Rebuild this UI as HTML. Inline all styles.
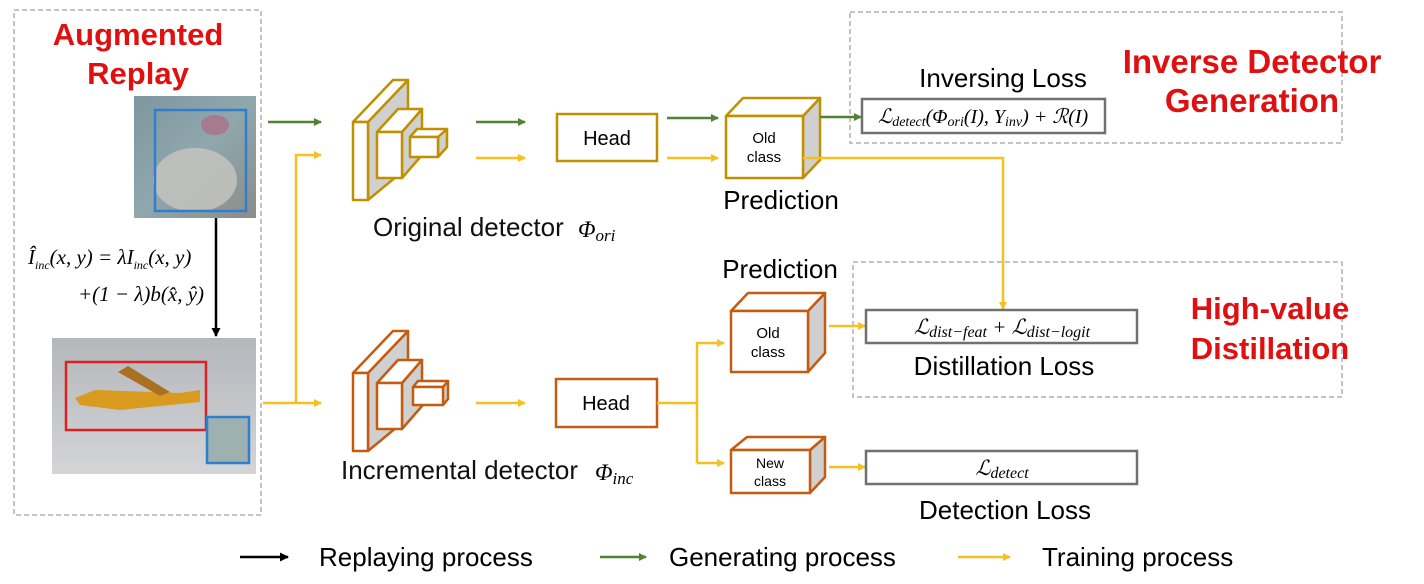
<!DOCTYPE html>
<html><head><meta charset="utf-8"><style>
html,body{margin:0;padding:0;background:#fff;}
svg{display:block;}
text{font-family:"Liberation Sans",Arial,sans-serif;}
.m{font-family:"Liberation Serif","DejaVu Serif",serif;font-style:italic;}
</style></head><body>
<svg width="1424" height="584" viewBox="0 0 1424 584" xmlns="http://www.w3.org/2000/svg">
<defs>
<marker id="ag" markerWidth="8" markerHeight="8" refX="7" refY="4" orient="auto" markerUnits="userSpaceOnUse"><path d="M0,0 L8,4 L0,8 z" fill="#548235"/></marker>
<marker id="ay" markerWidth="8" markerHeight="8" refX="7" refY="4" orient="auto" markerUnits="userSpaceOnUse"><path d="M0,0 L8,4 L0,8 z" fill="#F5C020"/></marker>
<marker id="ak" markerWidth="9" markerHeight="9" refX="8" refY="4.5" orient="auto" markerUnits="userSpaceOnUse"><path d="M0,0 L9,4.5 L0,9 z" fill="#000"/></marker>
<linearGradient id="bird" x1="0" y1="0" x2="1" y2="1"><stop offset="0" stop-color="#7f95a0"/><stop offset="0.5" stop-color="#8fa7ad"/><stop offset="1" stop-color="#8c8c88"/></linearGradient>
<linearGradient id="sky" x1="0" y1="0" x2="0" y2="1"><stop offset="0" stop-color="#b4b7bb"/><stop offset="1" stop-color="#d3d5d7"/></linearGradient>
</defs>

<rect x="14" y="10" width="247" height="505" fill="none" stroke="#b0b0b0" stroke-width="1.5" stroke-dasharray="5,3"/>
<rect x="850" y="12" width="492" height="131" fill="none" stroke="#b0b0b0" stroke-width="1.5" stroke-dasharray="5,3"/>
<rect x="853" y="262" width="489" height="135" fill="none" stroke="#b0b0b0" stroke-width="1.5" stroke-dasharray="5,3"/>

<text x="138" y="45" font-size="31" font-weight="bold" fill="#e01010" text-anchor="middle">Augmented</text>
<text x="138" y="84" font-size="31" font-weight="bold" fill="#e01010" text-anchor="middle">Replay</text>
<rect x="134" y="96" width="122" height="122" fill="url(#bird)"/>
<ellipse cx="195" cy="180" rx="42" ry="32" fill="#c8c6c0" opacity="0.8"/>
<ellipse cx="215" cy="125" rx="14" ry="10" fill="#b06a80" opacity="0.7"/>
<rect x="155" y="110" width="91" height="101" fill="none" stroke="#2f7fcf" stroke-width="2.5"/>
<line x1="216" y1="218" x2="216" y2="336" stroke="#000" stroke-width="2.5" marker-end="url(#ak)"/>
<text x="28" y="264" font-size="21" class="m">Î<tspan font-size="12" dy="5">inc</tspan><tspan dy="-5">(x, y) = λI</tspan><tspan font-size="12" dy="5">inc</tspan><tspan dy="-5">(x, y)</tspan></text>
<text x="78" y="301" font-size="21" class="m">+(1 − λ)b(x̂, ŷ)</text>
<rect x="52" y="338" width="204" height="136" fill="url(#sky)"/>
<path d="M75,398 L95,390 L180,393 L200,390 L200,402 L120,410 L80,405z" fill="#d99a20"/>
<path d="M118,372 L128,366 L170,392 L160,396z" fill="#a87020"/>
<rect x="66" y="362" width="140" height="68" fill="none" stroke="#e02020" stroke-width="2.5"/>
<rect x="207" y="417" width="42" height="46" fill="#9fb0b0" stroke="#2f7fcf" stroke-width="2.5"/>

<line x1="268" y1="122" x2="321" y2="122" stroke="#548235" stroke-width="2.5" marker-end="url(#ag)"/>
<polyline points="263,403 296,403" fill="none" stroke="#F5C020" stroke-width="2.5"/>
<line x1="296" y1="403" x2="321" y2="403" stroke="#F5C020" stroke-width="2.5" marker-end="url(#ay)"/>
<polyline points="296,403 296,155 321,155" fill="none" stroke="#F5C020" stroke-width="2.5" marker-end="url(#ay)"/>

<g stroke="#BF9000" stroke-width="2.5" stroke-linejoin="round">
<polygon points="368,122 408,80 408,167 368,200" fill="#d0d0d0"/>
<polygon points="353,122 368,122 408,80 393,80" fill="#fff"/>
<rect x="353" y="122" width="15" height="78" fill="#fff"/>
<polygon points="402,132 422,109 422,155 402,178" fill="#d0d0d0"/>
<polygon points="377,132 402,132 422,109 398,109" fill="#fff"/>
<rect x="377" y="132" width="25" height="46" fill="#fff"/>
<polygon points="438,137 447,129 447,147 438,157" fill="#d0d0d0"/>
<polygon points="410,137 438,137 447,129 417,129" fill="#fff"/>
<rect x="410" y="137" width="28" height="20" fill="#fff"/>
</g>
<text x="373" y="236" font-size="26" fill="#111">Original detector</text>
<text x="578" y="237" font-size="23" class="m">Φ<tspan font-size="17" dy="4">ori</tspan></text>
<line x1="476" y1="122" x2="525" y2="122" stroke="#548235" stroke-width="2.5" marker-end="url(#ag)"/>
<line x1="476" y1="158" x2="525" y2="158" stroke="#F5C020" stroke-width="2.5" marker-end="url(#ay)"/>
<rect x="557" y="114" width="100" height="47" fill="#fff" stroke="#BF9000" stroke-width="2.5"/>
<text x="607" y="145" font-size="20" text-anchor="middle">Head</text>
<line x1="667" y1="118" x2="718" y2="118" stroke="#548235" stroke-width="2.5" marker-end="url(#ag)"/>
<line x1="667" y1="158" x2="718" y2="158" stroke="#F5C020" stroke-width="2.5" marker-end="url(#ay)"/>
<g stroke="#BF9000" stroke-width="2.5" stroke-linejoin="round">
<polygon points="803,116 820,98 820,160 803,178" fill="#d0d0d0"/>
<polygon points="726,116 803,116 820,98 743,98" fill="#fff"/>
<rect x="726" y="116" width="77" height="62" fill="#fff"/>
</g>
<text x="764" y="143" font-size="15" text-anchor="middle">Old</text>
<text x="764" y="162" font-size="15" text-anchor="middle">class</text>
<text x="781" y="209" font-size="26" text-anchor="middle">Prediction</text>
<line x1="820" y1="117" x2="861" y2="117" stroke="#548235" stroke-width="2.5" marker-end="url(#ag)"/>
<polyline points="803,158 1003,158 1003,309" fill="none" stroke="#F5C020" stroke-width="2.5" marker-end="url(#ay)"/>

<text x="1003" y="87" font-size="26" text-anchor="middle">Inversing Loss</text>
<rect x="862" y="99" width="243" height="34" fill="#fff" stroke="#707070" stroke-width="2.5"/>
<text x="983" y="123" font-size="20" text-anchor="middle" class="m">ℒ<tspan font-size="14" dy="3">detect</tspan><tspan dy="-3">(Φ</tspan><tspan font-size="14" dy="3">ori</tspan><tspan dy="-3">(I), Y</tspan><tspan font-size="14" dy="3">inv</tspan><tspan dy="-3">) + ℛ(I)</tspan></text>
<text x="1252" y="73" font-size="33" font-weight="bold" fill="#e01010" text-anchor="middle">Inverse Detector</text>
<text x="1252" y="112" font-size="33" font-weight="bold" fill="#e01010" text-anchor="middle">Generation</text>

<g stroke="#C55A11" stroke-width="2.5" stroke-linejoin="round">
<polygon points="368,373 408,331 408,418 368,451" fill="#d0d0d0"/>
<polygon points="353,373 368,373 408,331 393,331" fill="#fff"/>
<rect x="353" y="373" width="15" height="78" fill="#fff"/>
<polygon points="402,383 422,360 422,406 402,429" fill="#d0d0d0"/>
<polygon points="377,383 402,383 422,360 398,360" fill="#fff"/>
<rect x="377" y="383" width="25" height="46" fill="#fff"/>
<polygon points="443,387 448,381 448,399 443,405" fill="#d0d0d0"/>
<polygon points="413,387 443,387 448,381 418,381" fill="#fff"/>
<rect x="413" y="387" width="30" height="18" fill="#fff"/>
</g>
<text x="341" y="479" font-size="26" fill="#111">Incremental detector</text>
<text x="595" y="480" font-size="23" class="m">Φ<tspan font-size="17" dy="4">inc</tspan></text>
<line x1="476" y1="403" x2="525" y2="403" stroke="#F5C020" stroke-width="2.5" marker-end="url(#ay)"/>
<rect x="556" y="379" width="101" height="48" fill="#fff" stroke="#C55A11" stroke-width="2.5"/>
<text x="606" y="410" font-size="20" text-anchor="middle">Head</text>
<polyline points="657,403 697,403" fill="none" stroke="#F5C020" stroke-width="2.5"/>
<polyline points="697,463 697,343 724,343" fill="none" stroke="#F5C020" stroke-width="2.5" marker-end="url(#ay)"/>
<line x1="697" y1="463" x2="724" y2="463" stroke="#F5C020" stroke-width="2.5" marker-end="url(#ay)"/>
<text x="780" y="278" font-size="26" text-anchor="middle">Prediction</text>
<g stroke="#C55A11" stroke-width="2.5" stroke-linejoin="round">
<polygon points="808,311 825,293 825,353 808,372" fill="#d0d0d0"/>
<polygon points="731,311 808,311 825,293 748,293" fill="#fff"/>
<rect x="731" y="311" width="77" height="61" fill="#fff"/>
<polygon points="810,450 825,437 825,477 810,493" fill="#d0d0d0"/>
<polygon points="731,450 810,450 825,437 747,437" fill="#fff"/>
<rect x="731" y="450" width="79" height="43" fill="#fff"/>
</g>
<text x="768" y="338" font-size="15" text-anchor="middle">Old</text>
<text x="768" y="357" font-size="15" text-anchor="middle">class</text>
<text x="770" y="468" font-size="14" text-anchor="middle">New</text>
<text x="770" y="486" font-size="14" text-anchor="middle">class</text>
<line x1="829" y1="326" x2="865" y2="326" stroke="#F5C020" stroke-width="2.5" marker-end="url(#ay)"/>
<line x1="829" y1="467" x2="865" y2="467" stroke="#F5C020" stroke-width="2.5" marker-end="url(#ay)"/>

<rect x="866" y="310" width="271" height="33" fill="#fff" stroke="#707070" stroke-width="2.5"/>
<text x="1002" y="334" font-size="21" text-anchor="middle" class="m">ℒ<tspan font-size="16" dy="3">dist−feat</tspan><tspan dy="-3"> + ℒ</tspan><tspan font-size="16" dy="3">dist−logit</tspan></text>
<text x="1004" y="375" font-size="26" text-anchor="middle">Distillation Loss</text>
<text x="1270" y="319" font-size="31" font-weight="bold" fill="#e01010" text-anchor="middle">High-value</text>
<text x="1270" y="359" font-size="31" font-weight="bold" fill="#e01010" text-anchor="middle">Distillation</text>

<rect x="866" y="451" width="271" height="33" fill="#fff" stroke="#707070" stroke-width="2.5"/>
<text x="1002" y="475" font-size="21" text-anchor="middle" class="m">ℒ<tspan font-size="16" dy="3">detect</tspan></text>
<text x="1005" y="519" font-size="26" text-anchor="middle">Detection Loss</text>

<line x1="240" y1="557" x2="288" y2="557" stroke="#000" stroke-width="2.5" marker-end="url(#ak)"/>
<text x="319" y="566" font-size="26">Replaying process</text>
<line x1="600" y1="557" x2="646" y2="557" stroke="#548235" stroke-width="2.5" marker-end="url(#ag)"/>
<text x="669" y="566" font-size="26">Generating process</text>
<line x1="958" y1="557" x2="1010" y2="557" stroke="#F5C020" stroke-width="2.5" marker-end="url(#ay)"/>
<text x="1042" y="566" font-size="26">Training process</text>
</svg>
</body></html>
